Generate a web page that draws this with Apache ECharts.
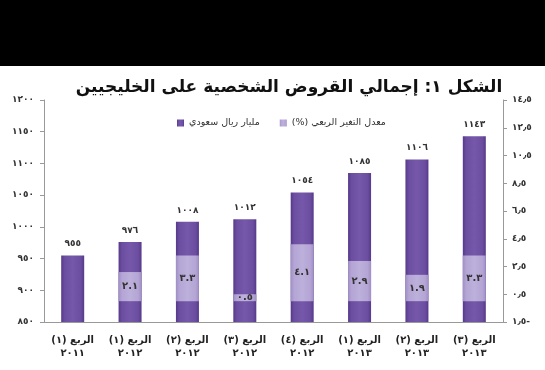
<!DOCTYPE html>
<html>
<head>
<meta charset="utf-8">
<script src="https://cdn.jsdelivr.net/npm/echarts@6/dist/echarts.min.js"></script>
<style>html,body{margin:0;padding:0;background:#fff}#c{width:545px;height:370px}</style>
</head>
<body>
<div id="c"></div>
<script>
const categories = ['الربع (١)\n٢٠١١','الربع (١)\n٢٠١٢','الربع (٢)\n٢٠١٢','الربع (٣)\n٢٠١٢','الربع (٤)\n٢٠١٢','الربع (١)\n٢٠١٣','الربع (٢)\n٢٠١٣','الربع (٣)\n٢٠١٣'];
const loansBillionSAR = [955, 976, 1008, 1012, 1054, 1085, 1106, 1143];
const quarterlyChangePct = [null, 2.1, 3.3, 0.5, 4.1, 2.9, 1.9, 3.3];
const leftTicks = {min: 850, max: 1200, interval: 50};
const rightTicks = {min: -1.5, max: 14.5, interval: 2};
const titleText = 'الشكل ١: إجمالي القروض الشخصية على الخليجيين';
const legendNames = ['مليار ريال سعودي', 'معدل التغير الربعي (%)\u200F'];

const AR = '٠١٢٣٤٥٦٧٨٩';
function ar(s){ return String(s).replace(/[0-9]/g, d => AR[+d]); }
function arNum(v, sep){
  const neg = v < 0;
  let s = ar(Math.abs(v).toString().replace('.', sep));
  return neg ? '\u200F-' + s : s;
}
const FONT = 'DejaVu Sans';
const chart = echarts.init(document.getElementById('c'), null, {renderer:'canvas'});
chart.setOption({
  animation: false,
  backgroundColor: '#ffffff',
  graphic: [{type:'rect', shape:{x:0,y:0,width:545,height:66}, style:{fill:'#000'}, z:-1}],
  title: {text: titleText, left: 284, textAlign:'center', top: 74,
    textStyle:{fontFamily: FONT, fontSize: 17, fontWeight:'bold', color:'#111'}},
  legend: {data: legendNames, top: 113, left: 172, itemWidth: 7, itemHeight: 7, itemGap: 20,
    icon: 'rect', textStyle:{fontFamily: FONT, fontSize: 9.5, color:'#333'}},
  grid: {left: 44, right: 42, top: 100, bottom: 48, containLabel: false},
  xAxis: {type:'category', data: categories.map(c => c.split('\n').map(l => l + '\u200F').join('\n')),
    axisLine:{onZero:false, lineStyle:{color:'#999'}}, axisTick:{show:false},
    axisLabel:{fontFamily: FONT, fontSize: 10, fontWeight:'bold', color:'#222', margin: 12, lineHeight: 13, interval: 0}},
  yAxis: [
    {type:'value', min: leftTicks.min, max: leftTicks.max, interval: leftTicks.interval, position:'left',
     splitLine:{show:false}, axisLine:{show:true, lineStyle:{color:'#999'}},
     axisTick:{show:true, length:4, lineStyle:{color:'#999'}},
     axisLabel:{fontFamily: FONT, fontSize: 9, fontWeight:'bold', color:'#333', margin: 10, formatter: v => ar(v)}},
    {type:'value', min: rightTicks.min, max: rightTicks.max, interval: rightTicks.interval, position:'right',
     splitLine:{show:false}, axisLine:{show:true, lineStyle:{color:'#999'}},
     axisTick:{show:true, length:4, lineStyle:{color:'#999'}},
     axisLabel:{fontFamily: FONT, fontSize: 9, fontWeight:'bold', color:'#333', margin: 9, formatter: v => arNum(v, '٫')}}
  ],
  series: [
    {name: legendNames[0], type:'bar', yAxisIndex:0, data: loansBillionSAR, barWidth: 23, barGap:'-100%',
     itemStyle:{color: new echarts.graphic.LinearGradient(0,0,1,0,[
       {offset:0,color:'#56398a'},{offset:0.15,color:'#6b4ea0'},{offset:0.5,color:'#7558aa'},{offset:0.85,color:'#6b4ea0'},{offset:1,color:'#56398a'}])},
     label:{show:true, position:'top', distance: 7, fontFamily: FONT, fontSize: 9, fontWeight:'bold', color:'#333',
       formatter: p => ar(p.value)}},
    {name: legendNames[1], type:'bar', yAxisIndex:1, data: quarterlyChangePct, barWidth: 23,
     itemStyle:{color: new echarts.graphic.LinearGradient(0,0,1,0,[
       {offset:0,color:'#9f8fc4'},{offset:0.15,color:'#b4a5d5'},{offset:0.5,color:'#bdb0db'},{offset:0.85,color:'#b4a5d5'},{offset:1,color:'#9f8fc4'}])},
     label:{show:true, position:'inside', fontFamily: FONT, fontSize: 10, fontWeight:'bold', color:'#333',
       formatter: p => arNum(p.value, '.')}}
  ]
});
</script>
</body>
</html>
